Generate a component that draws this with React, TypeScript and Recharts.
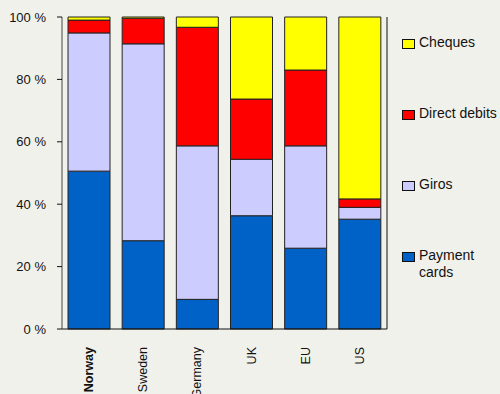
import React from "react";
import { Bar, BarChart, XAxis, YAxis } from "recharts";

const countries = ["Norway", "Sweden", "Germany", "UK", "EU", "US"];
const paymentCards = [50.6, 28.3, 9.5, 36.3, 25.9, 35.2];
const giros = [44.3, 63.1, 49.2, 18.1, 32.8, 3.8];
const directDebits = [4.1, 8.2, 38.0, 19.3, 24.3, 2.7];
const cheques = [1.0, 0.4, 3.3, 26.3, 17.0, 58.3];
const yTicks = [0, 20, 40, 60, 80, 100];

const series = [
  { key: "cards", name: "Payment cards", color: "#0062c6" },
  { key: "giros", name: "Giros", color: "#ccccff" },
  { key: "debits", name: "Direct debits", color: "#ff0000" },
  { key: "cheques", name: "Cheques", color: "#ffff00" },
];

const data = countries.map((country, i) => ({
  country,
  cards: paymentCards[i],
  giros: giros[i],
  debits: directDebits[i],
  cheques: cheques[i],
}));

const font = "'Liberation Sans', Arial, sans-serif";

function CountryTick(props: any) {
  const { x, y, payload } = props;
  const ty = y + 10;
  return (
    <text
      x={x}
      y={ty}
      transform={`rotate(-90, ${x}, ${ty})`}
      textAnchor="end"
      dominantBaseline="central"
      fontSize={12.5}
      fontFamily={font}
      fontWeight={payload.value === "Norway" ? "bold" : "normal"}
      fill="#111"
    >
      {payload.value}
    </text>
  );
}

function SideLegend() {
  const items = [...series].reverse();
  return (
    <div style={{ position: "absolute", left: 402, top: 34, fontFamily: font, fontSize: 14, color: "#111" }}>
      {items.map((s) => (
        <div key={s.key} style={{ display: "flex", alignItems: "flex-start", height: 71 }}>
          <span
            style={{
              width: 11,
              height: 8,
              background: s.color,
              border: "1px solid #111",
              marginTop: 5,
              marginRight: 4,
              flexShrink: 0,
            }}
          />
          <span style={{ lineHeight: "17px", width: 84 }}>
            {s.name === "Payment cards" ? <>Payment<br />cards</> : s.name}
          </span>
        </div>
      ))}
    </div>
  );
}

export default function App() {
  return (
    <div style={{ position: "absolute", left: 0, top: 0, width: 500, height: 394, background: "#f1f1ec", overflow: "hidden" }}>
      <BarChart
        width={500}
        height={394}
        data={data}
        margin={{ top: 17, right: 103, left: 0, bottom: 0 }}
        barCategoryGap={6}
      >
        <XAxis
          dataKey="country"
          tick={<CountryTick />}
          tickLine={false}
          axisLine={{ stroke: "#111" }}
          interval={0}
          height={65}
        />
        <YAxis
          yAxisId="left"
          domain={[0, 100]}
          ticks={yTicks}
          width={62}
          tickFormatter={(v) => `${v} %`}
          tick={{ fontSize: 13, fontFamily: font, fill: "#111" }}
          tickLine={{ stroke: "#111" }}
          tickSize={5}
          axisLine={{ stroke: "#444" }}
          tickMargin={11}
        />
        <YAxis
          yAxisId="right"
          orientation="right"
          domain={[0, 100]}
          ticks={yTicks}
          width={10}
          tick={false}
          tickLine={{ stroke: "#111" }}
          tickSize={6}
          axisLine={{ stroke: "#111" }}
        />
        {series.map((s) => (
          <Bar
            key={s.key}
            yAxisId="left"
            dataKey={s.key}
            name={s.name}
            stackId="a"
            fill={s.color}
            stroke="#222"
            strokeWidth={1}
            isAnimationActive={false}
          />
        ))}
      </BarChart>
      <SideLegend />
    </div>
  );
}
